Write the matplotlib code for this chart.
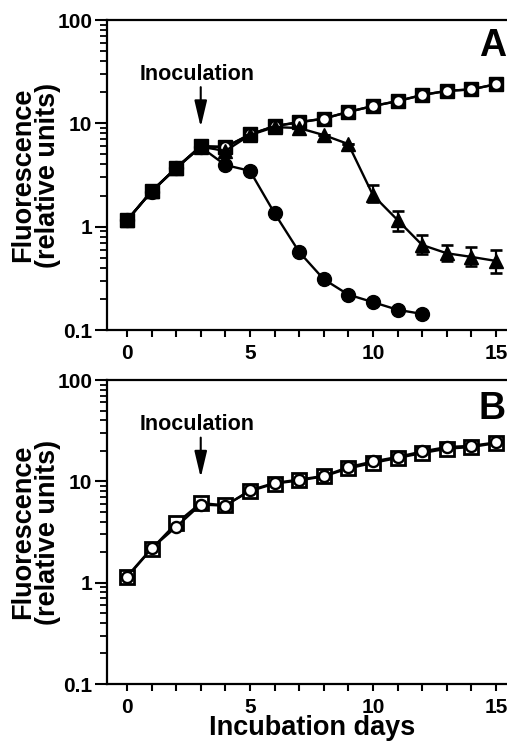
import matplotlib
matplotlib.use("Agg")
import matplotlib.pyplot as plt
import numpy as np
from matplotlib.ticker import LogLocator, FixedFormatter, FixedLocator, NullFormatter

plt.rcParams['font.family'] = ['Liberation Sans', 'DejaVu Sans']
plt.rcParams['font.weight'] = 'bold'

days = np.arange(16)

# panel A
a_circle_days = np.arange(13)
a_circle = [1.15, 2.18, 3.67, 5.9, 3.95, 3.47, 1.35, 0.57, 0.31, 0.22, 0.186, 0.157, 0.143]
a_triangle = [1.15, 2.2, 3.7, 5.95, 5.4, 7.7, 9.2, 9.0, 7.7, 6.3, 2.02, 1.16, 0.665, 0.553, 0.51, 0.466]
a_tri_lo = [0, 0, 0, 0, 0, 0, 0, 0, 0, 0, 0.28, 0.25, 0.125, 0.09, 0.09, 0.11]
a_tri_hi = [0, 0, 0, 0, 0, 0, 0, 0, 0, 0, 0.5, 0.26, 0.165, 0.11, 0.12, 0.13]
a_square = [1.15, 2.2, 3.7, 6.0, 5.9, 7.8, 9.4, 10.2, 11.1, 12.9, 14.7, 16.4, 18.8, 20.6, 21.3, 23.9]
a_open = [1.15, 2.2, 3.7, 6.0, 5.9, 7.8, 9.4, 10.3, 11.1, 12.9, 14.7, 16.4, 18.8, 20.6, 21.3, 23.9]

# panel B
b_square = [1.13, 2.15, 3.85, 6.1, 5.8, 8.0, 9.5, 10.2, 11.2, 13.4, 15.2, 17.0, 19.0, 21.0, 21.8, 23.8]
b_circle = [1.15, 2.18, 3.55, 5.9, 5.75, 8.15, 9.64, 10.4, 11.3, 13.8, 15.7, 17.4, 19.7, 21.8, 22.4, 24.2]

fig = plt.figure(figsize=(5.07, 7.47), dpi=100)
axA = fig.add_axes([107/507, 1-330/747, 400/507, 310/747])
axB = fig.add_axes([107/507, 1-684/747, 400/507, 304/747])

lw = 1.7
# A series
axA.plot(days, a_square, '-s', color='black', mfc='black', mec='black', ms=10, lw=lw, zorder=3)
axA.plot(days, a_open, '-o', color='black', mfc='white', mec='black', mew=1.8, ms=8, lw=lw, zorder=4)
axA.errorbar(days, a_triangle, yerr=[a_tri_lo, a_tri_hi], fmt='-^', color='black', ms=10.5,
             lw=lw, elinewidth=1.6, capsize=4.5, capthick=1.9, zorder=5)
axA.plot(a_circle_days, a_circle, '-o', color='black', ms=10, lw=lw, zorder=6)

# B series
axB.plot(days, b_square, '-s', color='black', mfc='white', mec='black', mew=2, ms=10, lw=lw, zorder=3)
axB.plot(days, b_circle, '-o', color='black', mfc='white', mec='black', mew=1.7, ms=8, lw=lw, zorder=4)

for ax, label, lab_y, tip, start, txt_y in [(axA, 'A', 10**1.75, 9.2, 22.4, 29.9),
                                            (axB, 'B', 10**1.71, 10.9, 27.0, 36.7)]:
    ax.set_yscale('log')
    ax.set_ylim(0.1, 100)
    ax.set_xlim(-0.81, 15.45)
    ax.yaxis.set_major_locator(FixedLocator([0.1, 1, 10, 100]))
    ax.yaxis.set_major_formatter(FixedFormatter(['0.1', '1', '10', '100']))
    ax.yaxis.set_minor_locator(LogLocator(base=10, subs=np.arange(2, 10)))
    ax.yaxis.set_minor_formatter(NullFormatter())
    ax.set_xticks([0, 5, 10, 15])
    ax.set_xticks(days, minor=True)
    ax.tick_params(axis='y', which='major', direction='out', length=8.6, width=1.5, labelsize=15, pad=2)
    ax.tick_params(axis='y', which='minor', direction='out', length=5, width=1.3)
    ax.tick_params(axis='x', which='both', direction='out', length=5, width=1.5, labelsize=15, pad=5)
    for s in ['left', 'bottom', 'top']:
        ax.spines[s].set_linewidth(1.6)
    ax.spines['right'].set_visible(False)
    ax.set_ylabel('Fluorescence\n(relative units)', fontsize=19.5, fontweight='bold', linespacing=0.95)
    ax.yaxis.set_label_coords(-0.115, 0.5)
    ax.text(14.85, lab_y, label, fontsize=27, fontweight='bold', ha='center', va='center')
    ax.text(2.85, txt_y, 'Inoculation', fontsize=15.5, fontweight='bold', ha='center', va='center')
    ax.annotate('', xy=(3, tip), xytext=(3, start),
                arrowprops=dict(arrowstyle='-|>,head_length=1.6,head_width=0.38', color='black', lw=1.5,
                                shrinkA=0, shrinkB=0))
    for t in ax.get_xticklabels() + ax.get_yticklabels():
        t.set_fontweight('bold')

fig.text(312/507, 1-728/747, 'Incubation days', fontsize=19.5, fontweight='bold', ha='center', va='center')

fig.savefig('out.png', dpi=100)
